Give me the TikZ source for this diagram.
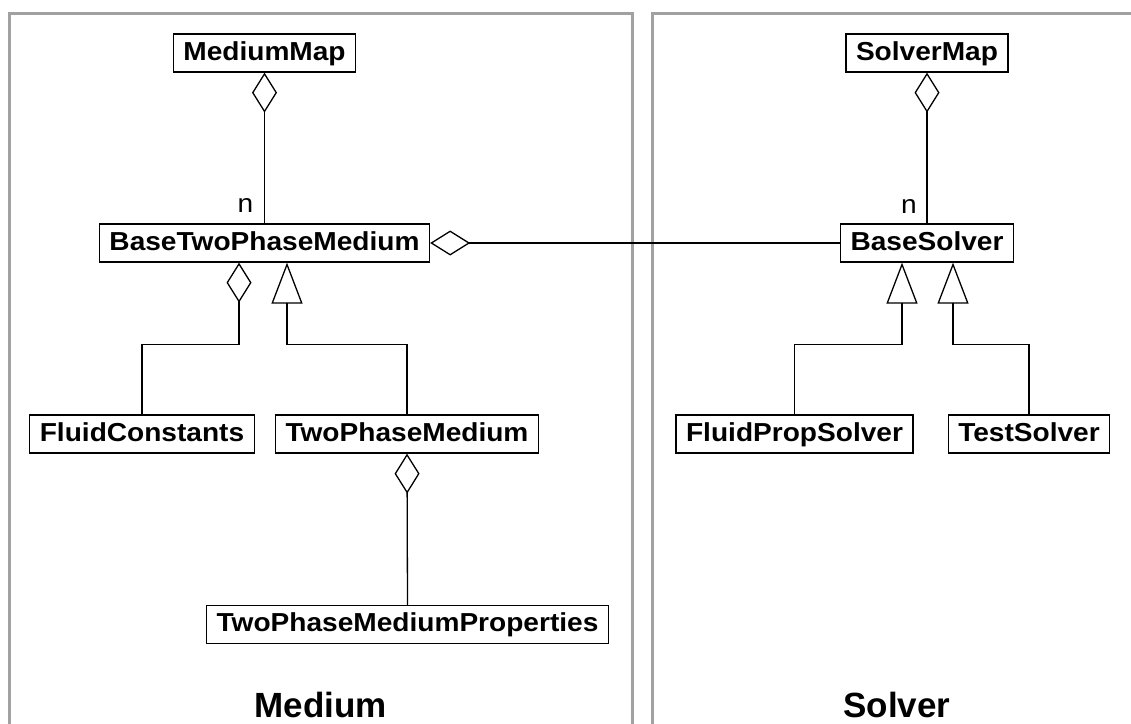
\documentclass[tikz,border=0pt]{standalone}
\usepackage{fontspec}
\setmainfont{Liberation Sans}
\newfontfamily\clsfont[FakeStretch=1.08]{Liberation Sans}
\usetikzlibrary{arrows.meta}
\begin{document}
\begin{tikzpicture}[x=1pt,y=-1pt,
    cls/.style={draw, line width=1.3pt, inner xsep=10pt, inner ysep=4pt,
        text height=22pt, text depth=8pt, font=\clsfont\fontsize{26}{31}\selectfont\bfseries},
    agg/.style={draw, line width=1.3pt, {Diamond[open,length=40pt,width=25pt]}-},
    inh/.style={draw, line width=1.3pt, {Triangle[open,length=41pt,width=31pt]}-},
    mult/.style={inner sep=0pt, anchor=base east, font=\clsfont\fontsize{26}{31}\selectfont},
    pkgframe/.style={draw=black!37, line width=3pt},
    pkglbl/.style={inner sep=0pt, anchor=base, font=\fontsize{35}{42}\selectfont\bfseries}]
        \fill[white] (0,0) rectangle (1131,723);
        \clip (0,0) rectangle (1131,723);

        \draw[pkgframe] (9,740)--(9,13)--(632,13)--(632,740);
        \draw[pkgframe] (652,740)--(652,13)--(1140,13);
        \node[pkglbl] (medlbl) at (320.5,717) {Medium};
        \node[pkglbl] (sollbl) at (897,717) {Solver};

        \node[cls] (mmap) at (264.5,53) {MediumMap};
        \node[cls] (btpm) at (264.5,243) {BaseTwoPhaseMedium};
        \node[cls] (fc) at (142,434) {FluidConstants};
        \node[cls] (tpm) at (407,434) {TwoPhaseMedium};
        \node[cls] (tpmp) at (407.5,624.5) {TwoPhaseMediumProperties};

        \node[cls] (smap) at (927,53) {SolverMap};
        \node[cls] (bsol) at (927,243) {BaseSolver};
        \node[cls] (fps) at (794.5,434) {FluidPropSolver};
        \node[cls] (tsol) at (1029,434) {TestSolver};

        \draw[agg] (mmap.south)--(btpm.north);
        \node[mult] (nmed) at ([xshift=-11pt,yshift=11pt]btpm.north) {n};
        \draw[agg] ([xshift=-25.5pt]btpm.south)--++(0,82)-|(fc.north);
        \draw[inh] ([xshift=22.5pt]btpm.south)--++(0,82)-|(tpm.north);
        \draw[agg] (tpm.south)--(tpmp.north);
        \draw[agg] (btpm.east)--(bsol.west);

        \draw[agg] (smap.south)--(bsol.north);
        \node[mult] (nsol) at ([xshift=-10pt,yshift=10pt]bsol.north) {n};
        \draw[inh] ([xshift=-25pt]bsol.south)--++(0,82)-|(fps.north);
        \draw[inh] ([xshift=26pt]bsol.south)--++(0,82)-|(tsol.north);
    \end{tikzpicture}
\end{document}
